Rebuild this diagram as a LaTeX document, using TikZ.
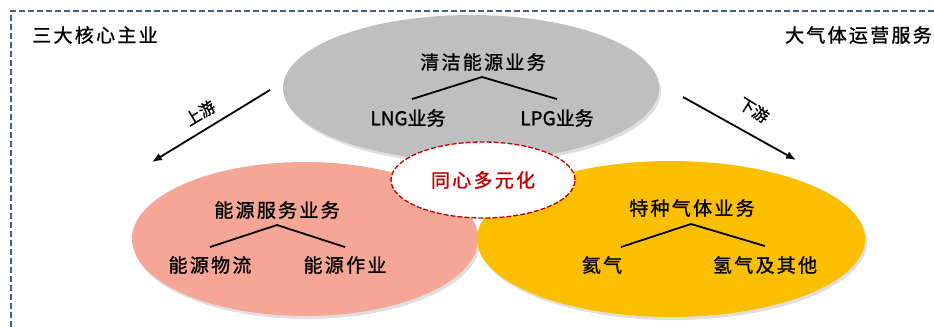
\documentclass[tikz,border=0pt]{standalone}
\usepackage{fontspec}
\usetikzlibrary{arrows.meta,shadows,shapes.geometric}
\newfontfamily\cjk[LetterSpace=12,AutoFakeBold=1.2]{Noto Sans CJK SC}
\newfontfamily\cjktight[AutoFakeBold=1.2]{Noto Sans CJK SC}

\definecolor{cleangray}{RGB}{191,191,191}
\definecolor{servpink}{RGB}{246,166,150}
\definecolor{gasgold}{RGB}{252,191,0}
\definecolor{coredred}{RGB}{192,0,0}
\definecolor{frameblue}{RGB}{68,96,126}

\tikzset{
  bizlabel/.style={font=\cjk\fontsize{19}{22}\selectfont\bfseries, inner sep=0pt},
  armlabel/.style={font=\cjktight\fontsize{16}{18}\selectfont\bfseries, inner sep=0pt},
  treeline/.style={line width=1.8pt},
  flowarrow/.style={line width=1.8pt, -{Latex[length=10pt,width=8pt]}},
  blob/.style={ellipse, inner sep=0pt, drop shadow={shadow xshift=2pt, shadow yshift=-3pt, opacity=0.25}},
}

\begin{document}
\begin{tikzpicture}[x=1pt,y=-1pt]
\useasboundingbox (0,0) rectangle (934,327);
\draw[frameblue, line width=1.4pt, dash pattern=on 6pt off 3pt] (934,11) -- (11,11) -- (11,327);

% three business areas
\node[blob, fill=cleangray, minimum width=376pt, minimum height=146pt] (clean) at (471,88) {};
\node[blob, fill=servpink, minimum width=346pt, minimum height=154pt] (serv) at (305,239) {};
\node[blob, fill=gasgold, minimum width=388pt, minimum height=156pt] (gas) at (671,239) {};
\node[ellipse, draw=coredred, dash pattern=on 5pt off 2pt, line width=1.3pt, fill=white, minimum width=184pt, minimum height=76pt,
      font=\cjk\fontsize{19}{22}\selectfont\bfseries, text=coredred] (core) at (483,180) {同心多元化};

\node[bizlabel] (coretitle) at (95,35) {三大核心主业};
\node[bizlabel, anchor=east] (gastitle) at (932,35) {大气体运营服务};

% clean energy
\node[bizlabel] (cleanbiz) at (483,62) {清洁能源业务};
\coordinate (cleanapex) at (482,77);
\node[bizlabel, font=\cjktight\fontsize{19}{22}\selectfont\bfseries] (lng) at (408,118) {LNG业务};
\node[bizlabel, font=\cjktight\fontsize{19}{22}\selectfont\bfseries] (lpg) at (557,118) {LPG业务};
\draw[treeline] ([xshift=4pt,yshift=10pt]lng.north) -- (cleanapex) -- ([yshift=10pt]lpg.north);

% energy services
\node[bizlabel] (servbiz) at (277,210) {能源服务业务};
\coordinate (servapex) at (277,225);
\node[bizlabel] (logis) at (210,265) {能源物流};
\node[bizlabel] (ops) at (345,265) {能源作业};
\draw[treeline] ([yshift=9pt]logis.north) -- (servapex) -- ([yshift=9pt]ops.north);

% special gases
\node[bizlabel] (gasbiz) at (692,208) {特种气体业务};
\coordinate (gasapex) at (691,224);
\node[bizlabel] (helium) at (602,265) {氦气};
\node[bizlabel] (hydro) at (765,265) {氢气及其他};
\draw[treeline] ([xshift=19pt,yshift=9pt]helium.north) -- (gasapex) -- ([yshift=10pt]hydro.north);

% up / down stream
\coordinate (upstart) at (270,90);
\coordinate (upend) at (152,162);
\draw[flowarrow] (upstart) -- (upend);
\node[armlabel, rotate=31] (uplabel) at (200,113) {上游};
\coordinate (downstart) at (683,97);
\coordinate (downend) at (796,160);
\draw[flowarrow] (downstart) -- (downend);
\node[armlabel, rotate=-32] (downlabel) at (754,110) {下游};
\end{tikzpicture}
\end{document}
